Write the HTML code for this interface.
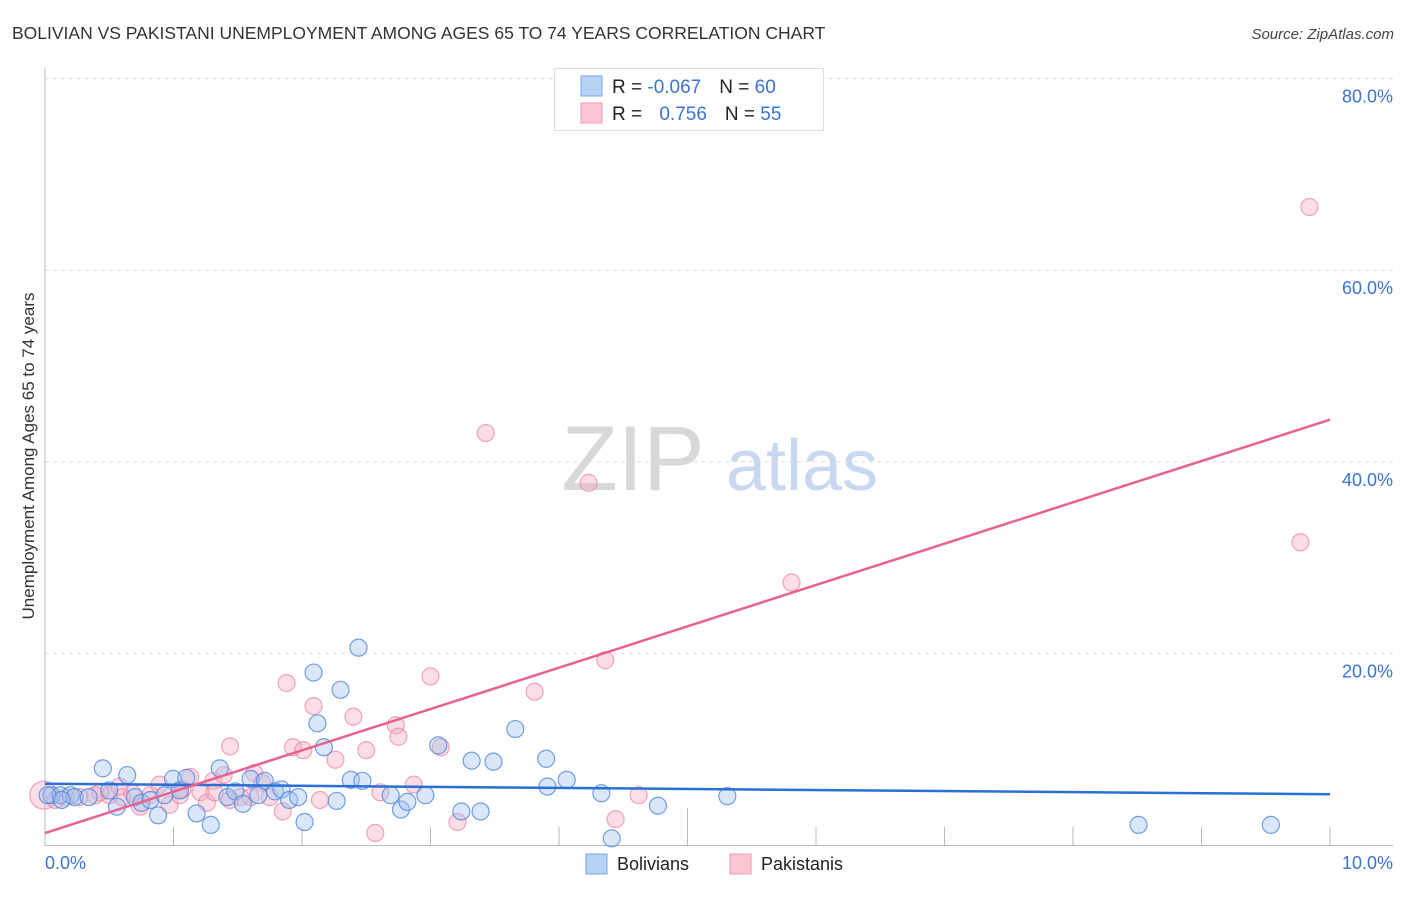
<!DOCTYPE html>
<html><head><meta charset="utf-8"><style>
body{margin:0;background:#fff;font-family:"Liberation Sans",sans-serif;}
svg text{font-family:"Liberation Sans",sans-serif;}
</style></head><body>
<svg width="1406" height="892" viewBox="0 0 1406 892">
<text x="12" y="39" font-size="17.5" fill="#333">BOLIVIAN VS PAKISTANI UNEMPLOYMENT AMONG AGES 65 TO 74 YEARS CORRELATION CHART</text>
<text x="1394" y="39" font-size="15" fill="#444" font-style="italic" text-anchor="end">Source: ZipAtlas.com</text>
<g>
<text x="633" y="490" font-size="92" fill="#d8d8d8" font-family="Liberation Serif" text-anchor="middle">ZIP</text>
<text x="802" y="490" font-size="72" fill="#c8d8f0" text-anchor="middle">atlas</text>
</g>
<g id="grid"></g>
<g id="axes"></g>
<g id="points"></g>
<g id="lines"></g>
<text transform="translate(34,456) rotate(-90)" font-size="17" fill="#333" text-anchor="middle">Unemployment Among Ages 65 to 74 years</text>
<g>
<rect x="554.5" y="68.5" width="269" height="62" fill="#fff" stroke="#ddd"/>
<rect x="581" y="76" width="21" height="20" fill="#b8d2f5" stroke="#7aa6e6"/>
<rect x="581" y="103" width="21" height="20" fill="#fcc6d4" stroke="#ee9ab2"/>
<text x="612" y="93" font-size="19" fill="#222">R = <tspan fill="#3a74d0">-0.067</tspan><tspan dx="18">N = </tspan><tspan fill="#3a74d0">60</tspan></text>
<text x="612" y="120" font-size="19" fill="#222">R = <tspan fill="#3a74d0" dx="12">0.756</tspan><tspan dx="18">N = </tspan><tspan fill="#3a74d0">55</tspan></text>
</g>
<g>
<rect x="586" y="854" width="21" height="20" fill="#b8d2f5" stroke="#7aa6e6"/>
<text x="617" y="870" font-size="18" fill="#222">Bolivians</text>
<rect x="730" y="854" width="21" height="20" fill="#fcc6d4" stroke="#ee9ab2"/>
<text x="761" y="870" font-size="18" fill="#222">Pakistanis</text>
</g>
</svg>
<script>
const yTicks=[20,40,60,80];
const xTickLabels=["0.0%","10.0%"];
const trendBolivian=[6.4,5.3];
const trendPakistani=[1.25,44.4];
const bolX=[0.05,0.12,0.2,0.23,0.34,0.45,0.5,0.56,0.64,0.7,0.75,0.82,0.88,0.93,0.996,1.05,1.1,1.18,1.29,1.36,1.42,1.48,1.54,1.6,1.66,1.71,1.79,1.84,1.9,1.97,2.02,2.09,2.12,2.17,2.3,2.27,2.38,2.44,2.47,2.69,2.77,2.82,2.96,3.06,3.24,3.32,3.39,3.49,3.66,3.9,3.91,4.06,4.33,4.41,4.77,5.31,8.51,9.54,0.02,0.13];
const bolY=[5.2,5.2,5.2,5.0,5.0,8.0,5.7,4.0,7.3,5.0,4.4,4.7,3.1,5.2,6.9,5.7,7.0,3.3,2.1,8.0,5.0,5.6,4.3,6.9,5.2,6.7,5.6,5.8,4.7,5.0,2.4,18.0,12.7,10.2,16.2,4.6,6.8,20.6,6.7,5.2,3.7,4.5,5.2,10.4,3.5,8.8,3.5,8.7,12.1,9.0,6.1,6.8,5.4,0.7,4.1,5.1,2.1,2.1,5.2,4.7];
const pakX=[-0.01,0.08,0.16,0.27,0.39,0.5,0.6,0.68,0.74,0.82,0.89,0.97,1.07,1.13,1.21,1.26,1.31,1.39,1.44,1.52,1.63,1.69,1.85,1.88,1.93,2.01,2.09,2.14,2.26,2.4,2.5,2.57,2.73,2.75,2.87,3.0,3.08,3.21,3.43,3.81,4.23,4.36,4.44,4.62,5.81,9.77,9.84,1.6,0.43,0.58,1.05,1.32,1.44,1.75,2.61];
const pakY=[5.2,4.7,5.0,5.0,5.2,5.2,5.0,5.4,4.0,5.2,6.3,4.2,5.8,7.1,5.5,4.4,6.7,7.3,10.3,5.0,7.5,6.5,3.5,16.9,10.2,9.9,14.5,4.7,8.9,13.4,9.9,1.25,12.5,11.3,6.3,17.6,10.2,2.4,43.0,16.0,37.8,19.3,2.7,5.2,27.4,31.6,66.6,5.0,5.5,6.1,5.2,5.5,4.7,5.0,5.5];
const NS="http://www.w3.org/2000/svg";
const X0=45,X1=1330,Y0=845,YS=9.58;
function sx(v){return X0+(X1-X0)*v/10;}
function sy(v){return Y0-YS*v;}
function mk(t,a,p){const e=document.createElementNS(NS,t);for(const k in a)e.setAttribute(k,a[k]);p.appendChild(e);return e;}
const grid=document.getElementById('grid'),axes=document.getElementById('axes'),pts=document.getElementById('points'),lines=document.getElementById('lines');
yTicks.forEach(v=>{
 const l=mk('line',{x1:X0,x2:1393,y1:sy(v),y2:sy(v),stroke:'#ddd','stroke-dasharray':'4,4'},grid);
 
 
 const t=mk('text',{x:1393,y:sy(v)+24,'font-size':18,fill:'#3a74d0','text-anchor':'end'},grid);
 t.textContent=v.toFixed(1)+'%';
 
 
});
const ax=mk('line',{x1:X0,x2:X0,y1:68,y2:Y0,stroke:'#bbb'},axes);


const bx=mk('line',{x1:X0,x2:1393,y1:Y0+0.5,y2:Y0+0.5,stroke:'#bbb'},axes);


for(let i=1;i<=10;i++){
 const tk=mk('line',{x1:sx(i),x2:sx(i),y1:i==5?808:827,y2:Y0,stroke:'#bbb'},axes);
 
 
}
const xl0=mk('text',{x:X0,y:869,'font-size':18,fill:'#3a74d0'},axes);xl0.textContent=xTickLabels[0];


const xl1=mk('text',{x:1393,y:869,'font-size':18,fill:'#3a74d0','text-anchor':'end'},axes);xl1.textContent=xTickLabels[1];


pakX.forEach((x,i)=>{
 const c=mk('circle',{cx:sx(x),cy:sy(pakY[i]),r:i==0?14:8.5,fill:'rgba(246,170,195,0.4)',stroke:'rgba(232,130,160,0.7)','stroke-width':1.2},pts);
 
 
});
bolX.forEach((x,i)=>{
 const c=mk('circle',{cx:sx(x),cy:sy(bolY[i]),r:8.5,fill:'rgba(160,195,240,0.4)',stroke:'rgba(80,135,220,0.8)','stroke-width':1.2},pts);
 
 
});
const lb=mk('line',{x1:sx(0),x2:sx(10),y1:sy(trendBolivian[0]),y2:sy(trendBolivian[1]),stroke:'#2a6fd6','stroke-width':2.5},lines);


const lp=mk('line',{x1:sx(0),x2:sx(10),y1:sy(trendPakistani[0]),y2:sy(trendPakistani[1]),stroke:'#e8628f','stroke-width':2.5},lines);


</script>
</body></html>
